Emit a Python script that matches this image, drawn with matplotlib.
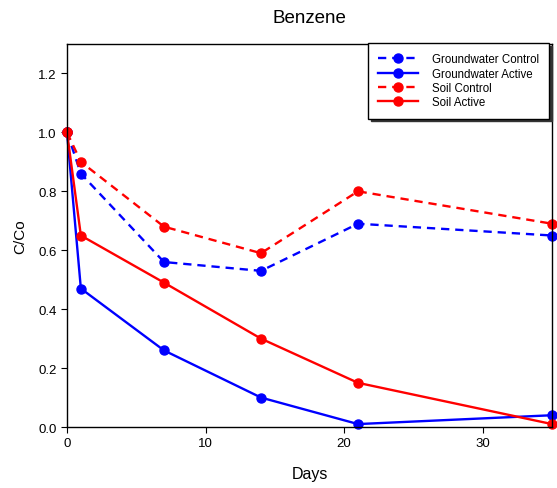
import matplotlib
matplotlib.use("Agg")
import matplotlib.pyplot as plt

days = [0, 1, 7, 14, 21, 35]
gw_control = [1.0, 0.86, 0.56, 0.53, 0.69, 0.65]
gw_active = [1.0, 0.47, 0.26, 0.10, 0.01, 0.04]
soil_control = [1.0, 0.90, 0.68, 0.59, 0.80, 0.69]
soil_active = [1.0, 0.65, 0.49, 0.30, 0.15, 0.01]

plt.rcParams["font.family"] = ["Liberation Sans", "DejaVu Sans"]

fig = plt.figure(figsize=(5.57, 4.89), dpi=100)
ax = fig.add_axes([0.1203, 0.1247, 0.8707, 0.7833])

kw = dict(marker="o", markersize=6.5, linewidth=1.7, clip_on=False)
dash = (0, (3.5, 2.5))
ax.plot(days, gw_control, color="#0000ff", linestyle=dash, label="Groundwater Control", **kw)
ax.plot(days, gw_active, color="#0000ff", linestyle="-", label="Groundwater Active", **kw)
ax.plot(days, soil_control, color="#ff0000", linestyle=dash, label="Soil Control", **kw)
ax.plot(days, soil_active, color="#ff0000", linestyle="-", label="Soil Active", **kw)

ax.set_xlim(0, 35)
ax.set_ylim(0, 1.3)
ax.set_xticks([0, 10, 20, 30])
ax.set_yticks([0.0, 0.2, 0.4, 0.6, 0.8, 1.0, 1.2])
ax.set_yticklabels(["0.0", "0.2", "0.4", "0.6", "0.8", "1.0", "1.2"])
ax.tick_params(direction="out", length=4, labelsize=9.5)
for s in ax.spines.values():
    s.set_linewidth(1.0)

ax.set_xlabel("Days", fontsize=11.5, labelpad=12)
ax.set_ylabel("C/Co", fontsize=11, labelpad=8)
ax.set_title("Benzene", fontsize=13.5, pad=16)

leg = ax.legend(loc="upper right", fontsize=8.3, frameon=True, fancybox=False,
                shadow={"color": "#333333", "alpha": 1.0}, edgecolor="black",
                borderpad=0.9, handlelength=3.4, handletextpad=1.2,
                labelspacing=0.2, borderaxespad=0,
                bbox_to_anchor=(549 / 557, (489 - 44) / 489),
                bbox_transform=fig.transFigure)
leg.get_frame().set_linewidth(1.0)

fig.savefig("out.png", dpi=100)
